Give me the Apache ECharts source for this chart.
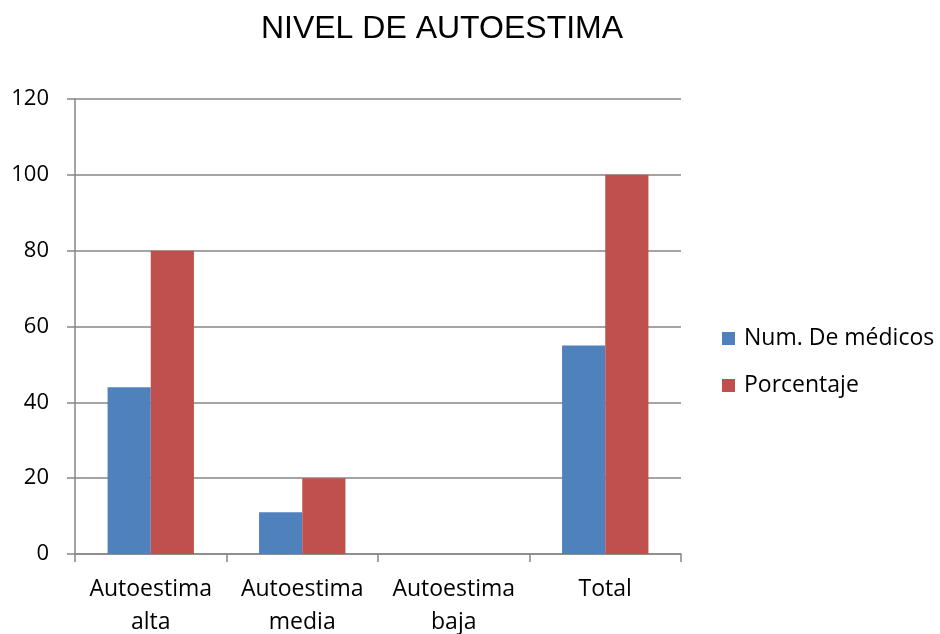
<!DOCTYPE html>
<html><head><meta charset="utf-8">
<script src="https://cdn.jsdelivr.net/npm/echarts@6/dist/echarts.min.js"></script>
<style>html,body{margin:0;padding:0;background:#fff}#c{width:940px;height:634px}</style>
</head><body><div id="c"></div>
<script>
const categories = ['Autoestima\nalta', 'Autoestima\nmedia', 'Autoestima\nbaja', 'Total'];
const medicos = [44, 11, 0, 55];
const porcentaje = [80, 20, 0, 100];
const seriesNames = ['Num. De médicos', 'Porcentaje'];
const yTicks = {min: 0, max: 120, interval: 20};

const font = 'Open Sans, Liberation Sans, sans-serif';
const chart = echarts.init(document.getElementById('c'), null, {renderer: 'canvas'});
chart.setOption({
  animation: false,
  backgroundColor: '#fff',
  title: {
    text: 'NIVEL DE AUTOESTIMA', left: 442, top: 13, textAlign: 'center', padding: 0,
    textStyle: {fontFamily: 'Liberation Sans, Arial, sans-serif', fontSize: 32, fontWeight: 'normal', color: '#000'}
  },
  legend: {
    orient: 'vertical', left: 722, top: 327, padding: 0, itemWidth: 13, itemHeight: 13, itemGap: 24,
    icon: 'rect',
    textStyle: {fontFamily: font, fontSize: 23, color: '#000', padding: [0, 0, 0, 4]},
    data: seriesNames
  },
  grid: {left: 75, right: 259, top: 99, bottom: 80, outerBoundsMode: 'none', containLabel: false},
  xAxis: {
    type: 'category', data: categories,
    axisLine: {lineStyle: {color: '#868686', width: 1.5}},
    axisTick: {show: true, length: 8, lineStyle: {color: '#868686', width: 1.5}},
    axisLabel: {fontFamily: font, fontSize: 23, color: '#000', margin: 19, lineHeight: 33, interval: 0}
  },
  yAxis: {
    type: 'value', min: yTicks.min, max: yTicks.max, interval: yTicks.interval,
    axisLine: {show: true, lineStyle: {color: '#868686', width: 1.5}},
    axisTick: {show: true, length: 8, lineStyle: {color: '#868686', width: 1.5}},
    splitLine: {lineStyle: {color: '#868686', width: 1.5}},
    axisLabel: {fontFamily: font, fontSize: 22, color: '#000', margin: 26}
  },
  series: [
    {name: seriesNames[0], type: 'bar', data: medicos, barGap: '0%', barCategoryGap: '43%', itemStyle: {color: '#4F81BD'}},
    {name: seriesNames[1], type: 'bar', data: porcentaje, itemStyle: {color: '#C0504D'}}
  ]
});
</script></body></html>
